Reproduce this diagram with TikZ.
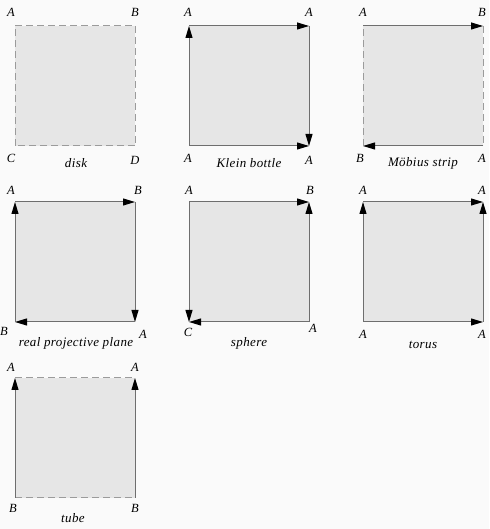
\documentclass[tikz,border=0pt]{standalone}
\usepackage{fontspec}
\setmainfont{Liberation Serif}
\usetikzlibrary{arrows.meta}
\definecolor{bgcol}{RGB}{250,250,250}
\definecolor{facecol}{RGB}{230,230,230}
\definecolor{edgecol}{RGB}{110,110,110}
\definecolor{opencol}{RGB}{155,155,155}
\tikzset{
	face/.style={fill=facecol},
	glued/.style={draw=edgecol,line width=1pt},
	gluedarr/.style={glued,-{Triangle[length=12pt,width=7pt,color=black]}},
	free/.style={draw=opencol,line width=1pt,dash pattern=on 7pt off 4pt},
	corner/.style={font=\fontsize{12.5}{12.5}\selectfont\itshape,inner sep=0pt},
	surfname/.style={font=\fontsize{13}{13}\selectfont\itshape\addfontfeature{LetterSpace=3},inner sep=0pt}
}
\begin{document}
\begin{tikzpicture}[line cap=butt,line join=miter,x=1pt,y=1pt]
		\fill[bgcol] (0,0) rectangle (489,529);
		\useasboundingbox (0,0) rectangle (489,529);
		%%%%%%%%%%%%%%% C O R N E R S %%%%%%%%%%%%%%%%
		%disk
		\coordinate (d-nw) at (15,503);
		\coordinate (d-ne) at (135,503);
		\coordinate (d-sw) at (15,383);
		\coordinate (d-se) at (135,383);
		%klein bottle
		\coordinate (k-nw) at (189,503);
		\coordinate (k-ne) at (309,503);
		\coordinate (k-sw) at (189,383);
		\coordinate (k-se) at (309,383);
		%moebius strip
		\coordinate (m-nw) at (363,503);
		\coordinate (m-ne) at (483,503);
		\coordinate (m-sw) at (363,383);
		\coordinate (m-se) at (483,383);
		%real projective plane
		\coordinate (p-nw) at (15,327);
		\coordinate (p-ne) at (135,327);
		\coordinate (p-sw) at (15,207);
		\coordinate (p-se) at (135,207);
		%sphere
		\coordinate (s-nw) at (189,327);
		\coordinate (s-ne) at (309,327);
		\coordinate (s-sw) at (189,207);
		\coordinate (s-se) at (309,207);
		%torus
		\coordinate (t-nw) at (363,327);
		\coordinate (t-ne) at (483,327);
		\coordinate (t-sw) at (363,207);
		\coordinate (t-se) at (483,207);
		%tube
		\coordinate (u-nw) at (15,151);
		\coordinate (u-ne) at (135,151);
		\coordinate (u-sw) at (15,31);
		\coordinate (u-se) at (135,31);
		%%%%%%%%%%%%%%% F A C E S %%%%%%%%%%%%%%%%
		\fill[face] (d-sw) rectangle (d-ne);
		\fill[face] (k-sw) rectangle (k-ne);
		\fill[face] (m-sw) rectangle (m-ne);
		\fill[face] (p-sw) rectangle (p-ne);
		\fill[face] (s-sw) rectangle (s-ne);
		\fill[face] (t-sw) rectangle (t-ne);
		\fill[face] (u-sw) rectangle (u-ne);
		%%%%%%%%%%%%%%% E D G E S %%%%%%%%%%%%%%%%
		%disk
		\draw[free] (d-nw) -- (d-ne);
		\draw[free] (d-ne) -- (d-se);
		\draw[free] (d-se) -- (d-sw);
		\draw[free] (d-sw) -- (d-nw);
		%klein bottle
		\draw[gluedarr] (k-nw) -- (k-ne);
		\draw[gluedarr] (k-ne) -- (k-se);
		\draw[gluedarr] (k-sw) -- (k-se);
		\draw[gluedarr] (k-sw) -- (k-nw);
		%moebius strip
		\draw[gluedarr] (m-nw) -- (m-ne);
		\draw[free] (m-ne) -- (m-se);
		\draw[gluedarr] (m-se) -- (m-sw);
		\draw[free] (m-sw) -- (m-nw);
		%real projective plane
		\draw[gluedarr] (p-nw) -- (p-ne);
		\draw[gluedarr] (p-ne) -- (p-se);
		\draw[gluedarr] (p-se) -- (p-sw);
		\draw[gluedarr] (p-sw) -- (p-nw);
		%sphere
		\draw[gluedarr] (s-nw) -- (s-ne);
		\draw[gluedarr] (s-se) -- (s-ne);
		\draw[gluedarr] (s-se) -- (s-sw);
		\draw[gluedarr] (s-nw) -- (s-sw);
		%torus
		\draw[gluedarr] (t-nw) -- (t-ne);
		\draw[gluedarr] (t-se) -- (t-ne);
		\draw[gluedarr] (t-sw) -- (t-se);
		\draw[gluedarr] (t-sw) -- (t-nw);
		%tube
		\draw[free] (u-nw) -- (u-ne);
		\draw[gluedarr] (u-se) -- (u-ne);
		\draw[free] (u-sw) -- (u-se);
		\draw[gluedarr] (u-sw) -- (u-nw);
		%%%%%%%%%%%%%%% T A G S %%%%%%%%%%%%%%%%
		%disk
		\node[corner] (d-a) at (11,517) {A};
		\node[corner] (d-b) at (135,517) {B};
		\node[corner] (d-c) at (11,371) {C};
		\node[corner] (d-d) at (135,369) {D};
		\node[surfname] (d-name) at (76,366) {disk};
		%klein bottle
		\node[corner] (k-a1) at (188,517) {A};
		\node[corner] (k-a2) at (309,517) {A};
		\node[corner] (k-a3) at (188,371) {A};
		\node[corner] (k-a4) at (309,369) {A};
		\node[surfname] (k-name) at (249,366) {Klein bottle};
		%moebius strip
		\node[corner] (m-a1) at (363,517) {A};
		\node[corner] (m-b1) at (482,517) {B};
		\node[corner] (m-b2) at (360,371) {B};
		\node[corner] (m-a2) at (482,371) {A};
		\node[surfname] (m-name) at (423,366) {Möbius strip};
		%real projective plane
		\node[corner] (p-a1) at (11,339) {A};
		\node[corner] (p-b1) at (138,339) {B};
		\node[corner] (p-b2) at (4,198) {B};
		\node[corner] (p-a2) at (143,195) {A};
		\node[surfname] (p-name) at (76,186) {real projective plane};
		%sphere
		\node[corner] (s-a1) at (189,339) {A};
		\node[corner] (s-b) at (310,339) {B};
		\node[corner] (s-c) at (188,197) {C};
		\node[corner] (s-a2) at (313,201) {A};
		\node[surfname] (s-name) at (249,186) {sphere};
		%torus
		\node[corner] (t-a1) at (363,339) {A};
		\node[corner] (t-a2) at (482,339) {A};
		\node[corner] (t-a3) at (363,195) {A};
		\node[corner] (t-a4) at (482,195) {A};
		\node[surfname] (t-name) at (423,184) {torus};
		%tube
		\node[corner] (u-a1) at (11,162) {A};
		\node[corner] (u-a2) at (135,162) {A};
		\node[corner] (u-b1) at (13,21) {B};
		\node[corner] (u-b2) at (135,21) {B};
		\node[surfname] (u-name) at (73,11) {tube};
	\end{tikzpicture}
\end{document}
